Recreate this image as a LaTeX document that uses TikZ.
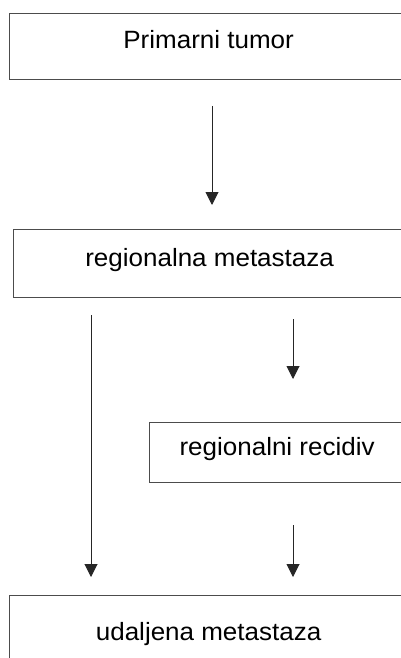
\documentclass[tikz,border=0pt]{standalone}
\usepackage{fontspec}
\setmainfont{Liberation Sans}[FakeStretch=1.04]
\usetikzlibrary{arrows.meta}
\tikzstyle{arrow} = [line width=1pt, draw=black!85, -{Triangle[width=13pt,length=13pt]}]

\begin{document}
\begin{tikzpicture}[x=1pt,y=-1pt]
		\useasboundingbox (0,0) rectangle (401,658);
		\clip (0,0) rectangle (401,658);
		\coordinate (tumor) at (9,13);
		\coordinate (regmet) at (13,229);
		\coordinate (recidiv) at (149,422);
		\coordinate (udmet) at (9,595);
		\coordinate (a1top) at (212,106);
		\coordinate (a1tip) at (212,205);
		\coordinate (a2top) at (91,315);
		\coordinate (a2tip) at (91,577);
		\coordinate (a3top) at (293,319);
		\coordinate (a3tip) at (293,379);
		\coordinate (a4top) at (293,525);
		\coordinate (a4tip) at (293,577);
		% Stages
		\begin{scope}[every node/.style={draw=black!70, line width=1.2pt, rectangle, anchor=north west, inner sep=0pt, font=\fontsize{25}{29}\selectfont}]
		\node[name=tumor, minimum width=398pt, text height=35pt, text depth=31pt] at (tumor) {Primarni tumor};
		\node[name=regmet, minimum width=392pt, text height=37pt, text depth=31pt] at (regmet) {regionalna metastaza};
		\node[name=recidiv, minimum width=255pt, text height=33pt, text depth=27pt] at (recidiv) {regionalni recidiv};
		\node[name=udmet, minimum width=398pt, text height=45pt, text depth=40pt] at (udmet) {udaljena metastaza};
		\end{scope}
		% Arrows
		\draw [arrow] (a1top)--(a1tip);
		\draw [arrow] (a2top)--(a2tip);
		\draw [arrow] (a3top)--(a3tip);
		\draw [arrow] (a4top)--(a4tip);
		\end{tikzpicture}
\end{document}
